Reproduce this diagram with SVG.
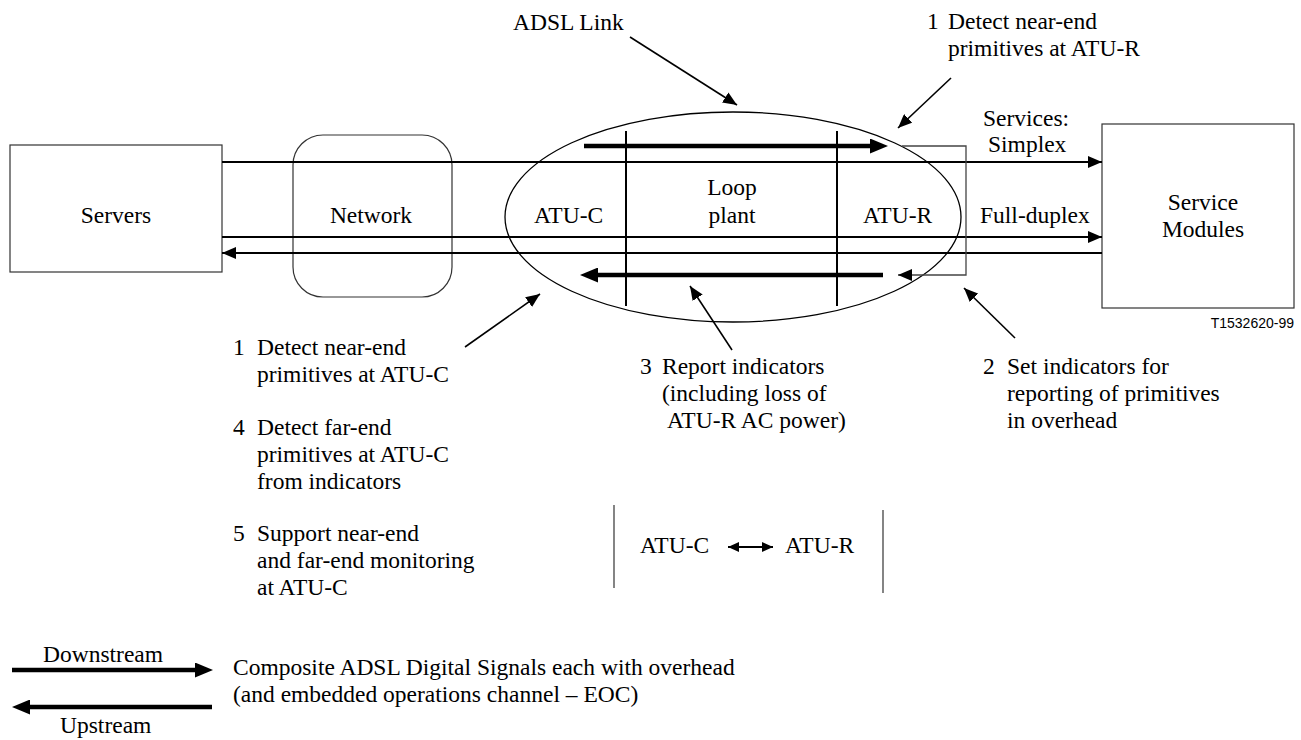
<svg xmlns="http://www.w3.org/2000/svg" width="1301" height="740" viewBox="0 0 1301 740">
<style>
.t{font-family:"Liberation Serif","Times New Roman",serif;font-size:23.5px;fill:#000}
.c{text-anchor:middle}
.s{font-family:"Liberation Sans",Arial,sans-serif;font-size:14px;fill:#000;text-anchor:end}
.box{fill:#fff;stroke:#333;stroke-width:1.2}
.ln{fill:none;stroke:#000;stroke-width:2}
.pt{fill:none;stroke:#000;stroke-width:1.6}
.tk{fill:none;stroke:#000;stroke-width:4.5}
.vl{fill:none;stroke:#000;stroke-width:2}
.gl{fill:none;stroke:#444;stroke-width:1.3}
</style>
<defs>
<marker id="ah" markerUnits="userSpaceOnUse" viewBox="0 0 14 12" markerWidth="14" markerHeight="12" refX="14" refY="6" orient="auto"><path d="M0,0 L14,6 L0,12 z" fill="#000"/></marker>
<marker id="ak" markerUnits="userSpaceOnUse" viewBox="0 0 18 15" markerWidth="18" markerHeight="15" refX="0" refY="7.5" orient="auto"><path d="M0,0 L18,7.5 L0,15 z" fill="#000"/></marker>
<marker id="as" markerUnits="userSpaceOnUse" viewBox="0 0 11 10" markerWidth="11" markerHeight="10" refX="11" refY="5" orient="auto-start-reverse"><path d="M0,0 L11,5 L0,10 z" fill="#000"/></marker>
</defs>

<g id="servers">
<rect class="box" x="10" y="145" width="212" height="127"/>
<text class="t c" x="116" y="223">Servers</text>
</g>
<g id="network">
<rect class="box" x="293" y="135" width="159" height="162" rx="30" ry="30"/>
<text class="t c" x="371" y="223">Network</text>
</g>
<g id="service-modules">
<rect class="box" x="1102" y="124" width="192" height="184"/>
<text class="t c" x="1203" y="210">Service</text>
<text class="t c" x="1203" y="237">Modules</text>
</g>
<text class="s" x="1294" y="328">T1532620-99</text>

<g id="adsl-link">
<ellipse cx="733" cy="217" rx="228" ry="105" fill="none" stroke="#000" stroke-width="1.3"/>
<path class="vl" d="M626 131 V306 M837 131 V306"/>
<text class="t" x="534" y="223">ATU-C</text>
<text class="t c" x="732" y="195">Loop</text>
<text class="t c" x="732" y="223">plant</text>
<text class="t" x="863" y="223">ATU-R</text>
</g>

<g id="connectors">
<path class="ln" d="M222 162 H1102" marker-end="url(#ah)"/>
<path class="ln" d="M222 237 H1102" marker-end="url(#ah)"/>
<path class="ln" d="M1102 253 H222" marker-end="url(#ah)"/>
<path class="tk" d="M584 146 H870" marker-end="url(#ak)"/>
<path class="tk" d="M883 275 H598" marker-end="url(#ak)"/>
<path class="gl" d="M902 146 H966 V275 H898" marker-end="url(#ah)"/>
<path class="pt" d="M630 37 L737 105" marker-end="url(#ah)"/>
<path class="pt" d="M951 78 L898 128" marker-end="url(#ah)"/>
<path class="pt" d="M465 347 L540 294" marker-end="url(#ah)"/>
<path class="pt" d="M732 350 L690 286" marker-end="url(#ah)"/>
<path class="pt" d="M1015 338 L964 288" marker-end="url(#ah)"/>
<path class="ln" d="M728 547 H773" marker-start="url(#as)" marker-end="url(#as)"/>
<path class="tk" d="M12 670 H195" marker-end="url(#ak)"/>
<path class="tk" d="M212 707 H30" marker-end="url(#ak)"/>
</g>

<g id="labels">
<text class="t" x="513" y="30">ADSL Link</text>
<text class="t" x="927" y="29">1</text>
<text class="t" x="948" y="29">Detect near-end</text>
<text class="t" x="948" y="56">primitives at ATU-R</text>
<text class="t" x="983" y="126">Services:</text>
<text class="t" x="988" y="152">Simplex</text>
<text class="t" x="980" y="223">Full-duplex</text>

<text class="t" x="233" y="355">1</text>
<text class="t" x="257" y="355">Detect near-end</text>
<text class="t" x="257" y="382">primitives at ATU-C</text>
<text class="t" x="233" y="435">4</text>
<text class="t" x="257" y="435">Detect far-end</text>
<text class="t" x="257" y="462">primitives at ATU-C</text>
<text class="t" x="257" y="489">from indicators</text>
<text class="t" x="233" y="541">5</text>
<text class="t" x="257" y="541">Support near-end</text>
<text class="t" x="257" y="568">and far-end monitoring</text>
<text class="t" x="257" y="595">at ATU-C</text>

<text class="t" x="640" y="374">3</text>
<text class="t" x="662" y="374">Report indicators</text>
<text class="t" x="662" y="401">(including loss of</text>
<text class="t" x="667" y="428">ATU-R AC power)</text>

<text class="t" x="983" y="374">2</text>
<text class="t" x="1007" y="374">Set indicators for</text>
<text class="t" x="1007" y="401">reporting of primitives</text>
<text class="t" x="1007" y="428">in overhead</text>
</g>

<g id="eoc-legend">
<path class="gl" d="M614 505 V588 M883 510 V593" stroke="#333"/>
<text class="t" x="640" y="553">ATU-C</text>
<text class="t" x="785" y="553">ATU-R</text>
<text class="t" x="43" y="662">Downstream</text>
<text class="t" x="60" y="733">Upstream</text>
<text class="t" x="233" y="675">Composite ADSL Digital Signals each with overhead</text>
<text class="t" x="233" y="702">(and embedded operations channel – EOC)</text>
</g>
</svg>
